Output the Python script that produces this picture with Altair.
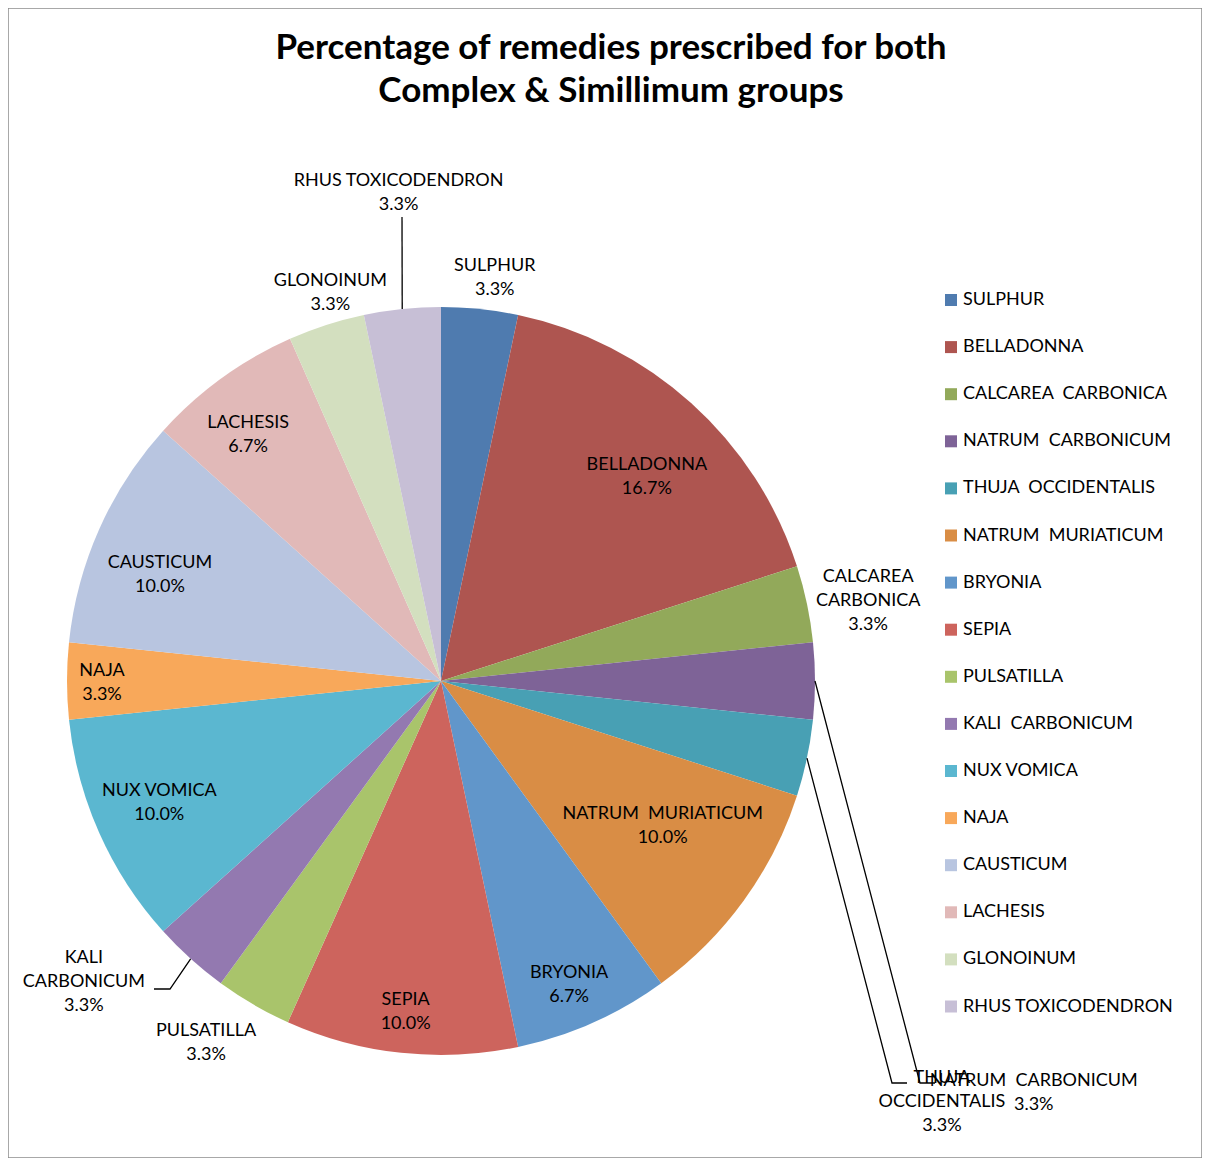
import math
import altair as alt
import pandas as pd

# ---------------- data ----------------
names = ["SULPHUR", "BELLADONNA", "CALCAREA  CARBONICA", "NATRUM  CARBONICUM",
         "THUJA  OCCIDENTALIS", "NATRUM  MURIATICUM", "BRYONIA", "SEPIA",
         "PULSATILLA", "KALI  CARBONICUM", "NUX VOMICA", "NAJA", "CAUSTICUM",
         "LACHESIS", "GLONOINUM", "RHUS TOXICODENDRON"]
percents = [3.3, 16.7, 3.3, 3.3, 3.3, 10.0, 6.7, 10.0, 3.3, 3.3, 10.0, 3.3, 10.0, 6.7, 3.3, 3.3]
label_lines = {
    "CALCAREA  CARBONICA": ["CALCAREA", "CARBONICA"],
    "KALI  CARBONICUM": ["KALI", "CARBONICUM"],
    "THUJA  OCCIDENTALIS": ["THUJA", "OCCIDENTALIS"],
}
colors = ["#4F7BAF", "#AE5550", "#92A95A", "#7E6397", "#48A0B4", "#D98D45",
          "#6196CA", "#CD645D", "#A9C46B", "#9379B0", "#5BB7D0", "#F8A85A",
          "#B8C5E0", "#E1B9B8", "#D3DFBF", "#C7BFD6"]
title_lines = ["Percentage of remedies prescribed for both", "Complex & Simillimum groups"]

# ---------------- layout ----------------
W, H = 1194, 1150
CX, CY, R = 433, 673, 374
FONT = "Lato"
FS = 18
LH = 24
# label placement: (angle offset from slice middle in degrees, radius in px)
label_place = {
    "SULPHUR": (1.6, 409), "BELLADONNA": (3, 291), "CALCAREA  CARBONICA": (1, 435),
    "NATRUM  CARBONICUM": (34.7, 721), "THUJA  OCCIDENTALIS": (28, 653),
    "NATRUM  MURIATICUM": (-3, 264), "BRYONIA": (1, 328), "SEPIA": (0, 331),
    "PULSATILLA": (3, 430), "KALI  CARBONICUM": (8, 466), "NUX VOMICA": (1, 306),
    "NAJA": (0, 339), "CAUSTICUM": (-3, 301), "LACHESIS": (-2, 314),
    "GLONOINUM": (2, 405), "RHUS TOXICODENDRON": (1, 492),
}
# leader lines: extra points relative to pie centre (start is slice edge)
leaders = {
    "RHUS TOXICODENDRON": [(-39, -464)],
    "NATRUM  CARBONICUM": [(479, 402), (494, 402)],
    "THUJA  OCCIDENTALIS": [(451, 402), (466, 402)],
    "KALI  CARBONICUM": [(-271, 308), (-287, 308)],
}


def disp(s):
    return s.replace("  ", " \u00a0")


total = sum(percents)
rows, lrows = [], []
cum = 0.0
for i, (n, p) in enumerate(zip(names, percents)):
    mid = (cum + p / 2) / total * 2 * math.pi
    cum += p
    off, lr = label_place[n]
    lines = [disp(x) for x in label_lines.get(n, [n])] + [f"{p:.1f}%"]
    # block centre -> first line position (Vega places first line at anchor)
    a = mid + math.radians(off)
    bx = lr * math.sin(a)
    by = -lr * math.cos(a) - (len(lines) - 1) * LH / 2 + 2
    rows.append({"idx": i, "name": disp(n), "pct": p,
                 "label": "\n".join(lines),
                 "lt": math.atan2(bx, -by), "lr": math.hypot(bx, by)})
    if n in leaders:
        pts = [(R * math.sin(mid), -R * math.cos(mid))] + leaders[n]
        for k, (dx, dy) in enumerate(pts):
            lrows.append({"name": disp(n), "k": k, "x": CX + dx, "y": CY + dy})

df = pd.DataFrame(rows)
ldf = pd.DataFrame(lrows)
domain = [disp(n) for n in names]

base = alt.Chart(df)

arcs = base.mark_arc(outerRadius=R, strokeWidth=0).encode(
    theta=alt.Theta("pct:Q", stack=True),
    order=alt.Order("idx:Q"),
    color=alt.Color("name:N", scale=alt.Scale(domain=domain, range=colors),
                    legend=alt.Legend(title=None, orient="none", legendX=934, legendY=283,
                                      symbolType="square", symbolSize=144,
                                      symbolStrokeWidth=0, symbolOpacity=1,
                                      labelFont=FONT, labelFontSize=FS, labelColor="black",
                                      rowPadding=29.1, labelOffset=3, padding=0,
                                      labelLimit=400)),
    x=alt.value(CX), y=alt.value(CY),
)

labels = base.mark_text(font=FONT, fontSize=FS, lineBreak="\n", lineHeight=LH,
                        align="center", baseline="middle", color="black").encode(
    theta=alt.Theta("lt:Q", scale=None, stack=False),
    radius=alt.Radius("lr:Q", scale=None),
    text="label:N",
    x=alt.value(CX), y=alt.value(CY),
)

lead = alt.Chart(ldf).mark_line(color="black", strokeWidth=1.3).encode(
    x=alt.X("x:Q", scale=None),
    y=alt.Y("y:Q", scale=None),
    detail="name:N",
    order="k:Q",
)

chart = alt.layer(arcs, lead, labels).properties(
    width=W, height=H,
    autosize=alt.AutoSizeParams(type="none"),
    padding=0,
    title=alt.TitleParams(text=title_lines, font=FONT, fontSize=35, fontWeight="bold",
                          anchor="middle", baseline="alphabetic", offset=0, dy=129, dx=6,
                          lineHeight=43, color="black"),
).configure_view(stroke="#8c8c8c", strokeWidth=1.5)

chart.save("out.html", embed_options={"renderer": "svg", "actions": False})
